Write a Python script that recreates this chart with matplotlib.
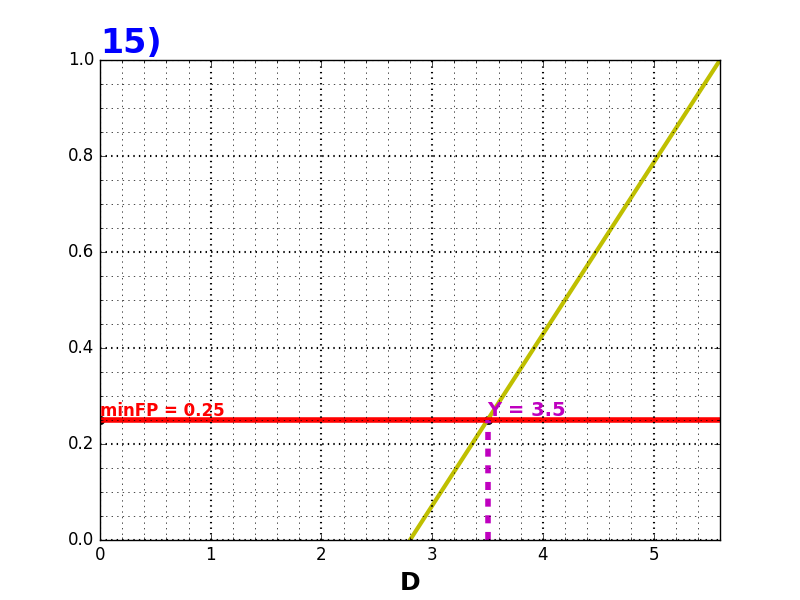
import matplotlib
matplotlib.use("Agg")
import matplotlib.pyplot as plt
import numpy as np
from matplotlib.ticker import MultipleLocator

plt.style.use('classic')

# data
line_x = [2.8, 5.6]
line_y = [0.0, 1.0]
min_fp = 0.25
y_val = 3.5
x_max = 5.6

fig = plt.figure(figsize=(8, 6), dpi=100)
ax = fig.add_subplot(111)

ax.plot([0, y_val], [min_fp, min_fp], 'ko', markersize=6)
ax.plot(line_x, line_y, color='y', linewidth=3)
ax.axhline(min_fp, color='r', linewidth=4)
ax.plot([y_val, y_val], [0, min_fp], color='m', linewidth=4, dashes=(5.8, 6.2))

ax.text(0, min_fp, 'minFP = 0.25', color='r', fontsize=12, fontweight='bold', va='bottom')
ax.text(y_val, min_fp, 'Y = 3.5', color='m', fontsize=14, fontweight='bold', va='bottom')

ax.set_xlim(0, x_max)
ax.set_ylim(0, 1)
ax.xaxis.set_minor_locator(MultipleLocator(0.2))
ax.yaxis.set_minor_locator(MultipleLocator(0.05))
ax.grid(which='major', color='k', linestyle=':', linewidth=1.5)
ax.grid(which='minor', color='k', linestyle=':', linewidth=0.5)

ax.set_title('15)', loc='left', color='b', fontsize=24, fontweight='bold')
ax.set_xlabel('D', fontsize=18, fontweight='bold')

fig.savefig('out.png', dpi=100)
